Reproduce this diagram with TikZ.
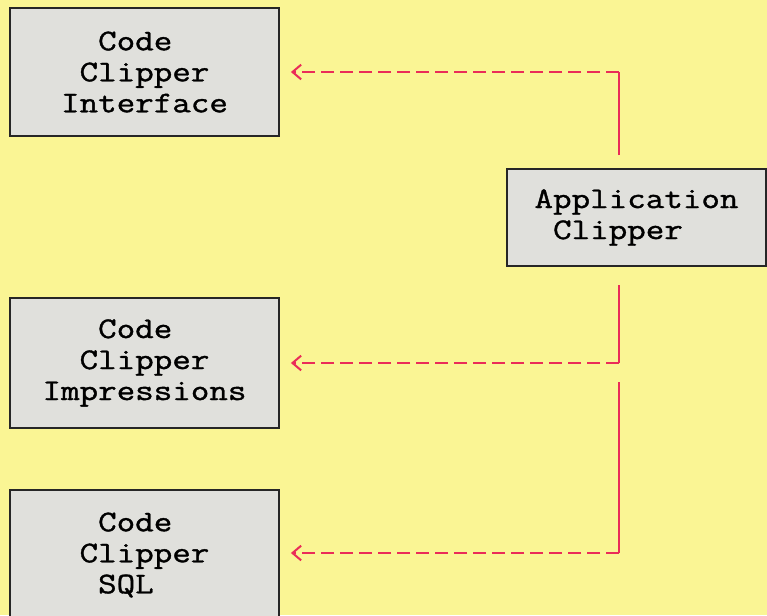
\documentclass[tikz,border=0pt]{standalone}
\usepackage{fontspec}
\newfontfamily\boxfont[FakeStretch=1.2,FakeBold=1.2]{Latin Modern Mono}
\usetikzlibrary{arrows.meta}
\definecolor{bgyellow}{RGB}{250,245,148}
\definecolor{boxgray}{RGB}{224,224,220}
\definecolor{linered}{RGB}{234,44,88}
\tikzset{
  box/.style={draw=black!85, line width=1.9pt, fill=boxgray, align=left,
    font=\boxfont\fontsize{22.5}{23.25}\selectfont, inner sep=0pt},
  link/.style={draw=linered, line width=1.5pt},
  dashlink/.style={link, dash pattern=on 9.75pt off 4.5pt,
    -{Straight Barb[length=6.5pt,width=11pt,line width=1.5pt]}},
}
\begin{document}
\begin{tikzpicture}[x=0.75pt,y=-0.75pt]
\fill[bgyellow] (0,0) rectangle (767,615);
\useasboundingbox (0,0) rectangle (767,615);
\node[box, minimum width=269*0.75pt, minimum height=128*0.75pt] (cci) at (144.5,72)
  {~~Code\\~Clipper\\Interface};
\node[box, minimum width=269*0.75pt, minimum height=130*0.75pt] (ccimp) at (144.5,363)
  {~~~Code\\~~Clipper\\Impressions};
\node[box, minimum width=269*0.75pt, minimum height=130*0.75pt] (ccsql) at (144.5,555)
  {~Code\\Clipper\\~SQL};
\node[box, minimum width=259*0.75pt, minimum height=97*0.75pt] (app) at (636.5,217.5)
  {Application\\~Clipper};
% junction points of the connectors
\coordinate (s1) at (619,155);
\coordinate (c1) at (619,72);
\coordinate (s2) at (619,285);
\coordinate (c2) at (619,363);
\coordinate (s3) at (619,382);
\coordinate (c3) at (619,553);
\draw[link] (s1) -- (c1);
\draw[dashlink, shorten >=8pt] (c1) -- (c1 -| cci.east);
\draw[link] (s2) -- (c2);
\draw[dashlink, shorten >=8pt] (c2) -- (c2 -| ccimp.east);
\draw[link] (s3) -- (c3);
\draw[dashlink, shorten >=8pt] (c3) -- (c3 -| ccsql.east);
\end{tikzpicture}
\end{document}
